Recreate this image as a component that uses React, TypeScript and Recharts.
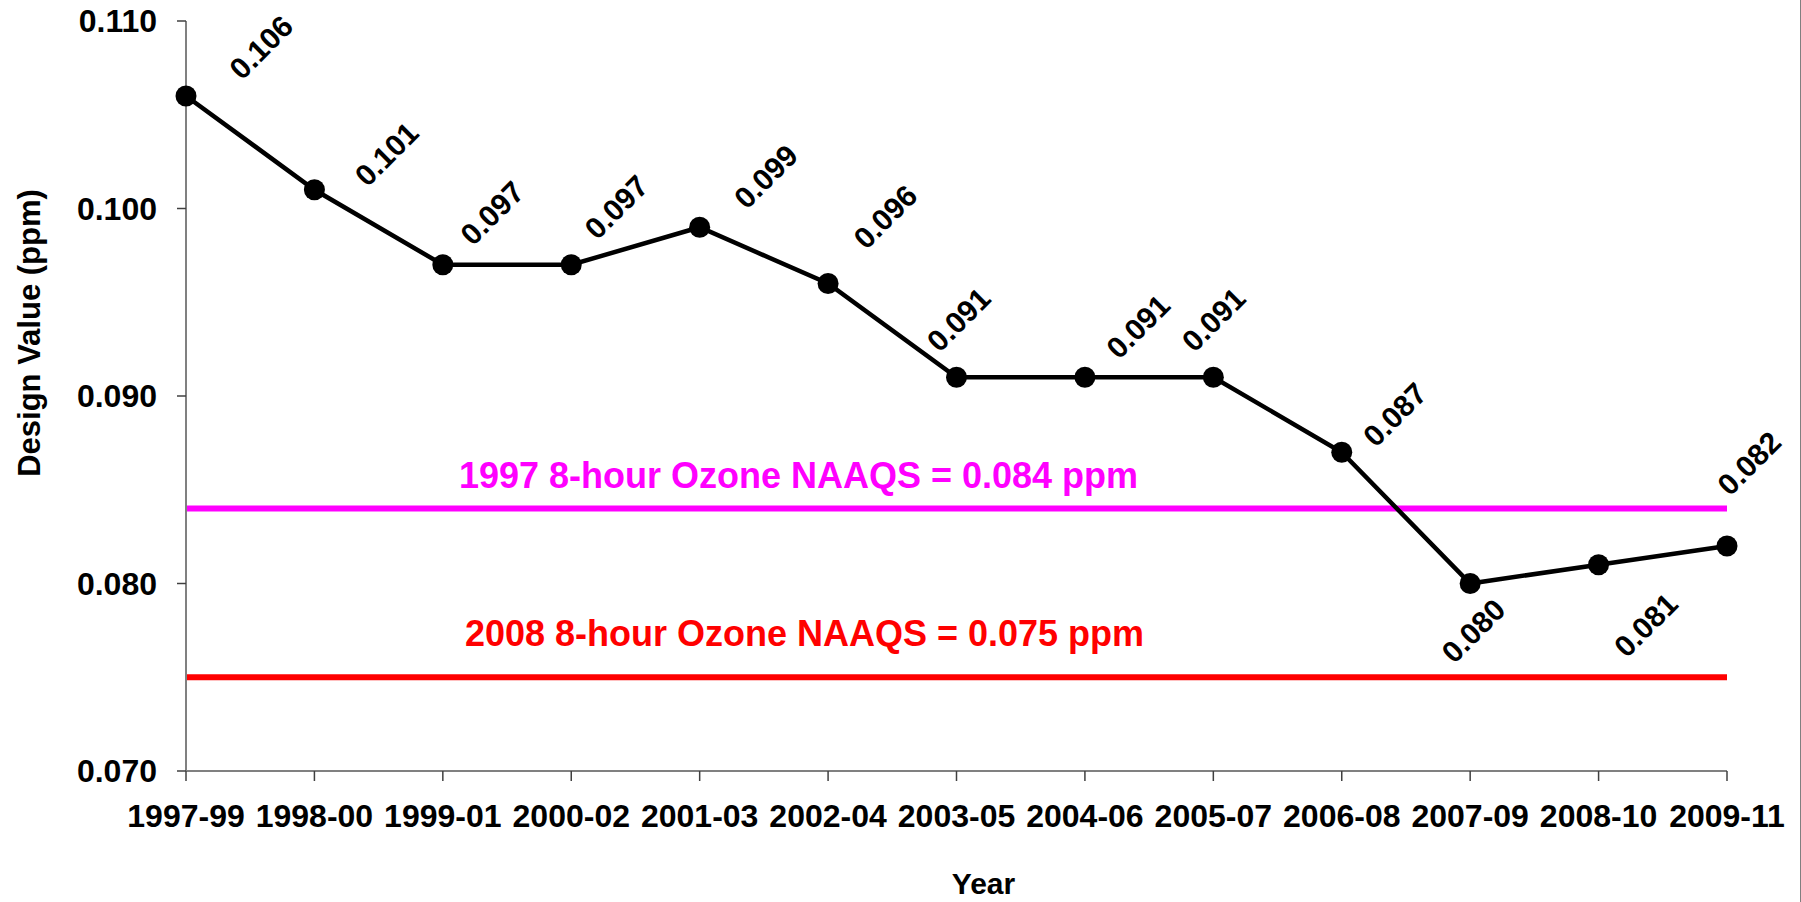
import { LineChart, Line, XAxis, YAxis, ReferenceLine, LabelList, Label } from "recharts";

/* 3-year periods on the x axis */
const periods = [
  "1997-99", "1998-00", "1999-01", "2000-02", "2001-03", "2002-04", "2003-05",
  "2004-06", "2005-07", "2006-08", "2007-09", "2008-10", "2009-11",
];

/* design values (ppm) */
const designValues = [
  0.106, 0.101, 0.097, 0.097, 0.099, 0.096, 0.091,
  0.091, 0.091, 0.087, 0.080, 0.081, 0.082,
];

/* y axis ticks */
const yTicks = [0.07, 0.08, 0.09, 0.1, 0.11];

/* standards */
const naaqs1997 = 0.084;
const naaqs2008 = 0.075;

/* hand placed label nudges, like in the original sheet */
const labelNudgeX = [75, 72, 49, 45, 66, 57, 2, 53, 0, 53, 3, 47, 22];
const labelNudgeY = [-49, -36, -52, -58, -51, -67, -58, -51, -58, -38, 47, 60, -83];

const font = "'Liberation Sans', Arial, sans-serif";

const data = periods.map((p, i) => ({ period: p, value: designValues[i] }));

const ValueLabel = (props: any) => {
  const { x, y, value, index } = props;
  const cx = x + labelNudgeX[index];
  const cy = y + labelNudgeY[index];
  return (
    <text
      x={cx}
      y={cy}
      dy="0.36em"
      textAnchor="middle"
      transform={`rotate(-45 ${cx} ${cy})`}
      fontFamily={font}
      fontWeight="bold"
      fontSize={30}
      fill="#000"
    >
      {Number(value).toFixed(3)}
    </text>
  );
};

const refLabel = (text: string, color: string, shiftX: number, lift: number) => (props: any) => {
  const vb = props.viewBox;
  return (
    <text
      x={vb.x + vb.width / 2 + shiftX}
      y={vb.y - lift}
      textAnchor="middle"
      fontFamily={font}
      fontWeight="bold"
      fontSize={36}
      fill={color}
    >
      {text}
    </text>
  );
};

const App = () => {
  return (
    <div
      style={{
        position: "absolute",
        left: 0,
        top: 0,
        width: 1800,
        height: 902,
        background: "#fff",
        borderRight: "1px solid #808080",
      }}
    >
      <LineChart
        width={1801}
        height={902}
        data={data}
        margin={{ top: 21, right: 74, left: 0, bottom: 0 }}
      >
        <XAxis
          dataKey="period"
          interval={0}
          height={131}
          tickSize={10}
          tickMargin={23}
          axisLine={{ stroke: "#808080", strokeWidth: 2 }}
          tickLine={{ stroke: "#404040", strokeWidth: 1.5 }}
          tick={{ fontFamily: font, fontWeight: "bold", fontSize: 32, fill: "#000" }}
        >
          <Label
            content={(props: any) => {
              const vb = props.viewBox;
              return (
                <text
                  x={vb.x + vb.width / 2 + 27}
                  y={894}
                  textAnchor="middle"
                  fontFamily={font}
                  fontWeight="bold"
                  fontSize={30}
                  fill="#000"
                >
                  Year
                </text>
              );
            }}
          />
        </XAxis>
        <YAxis
          domain={[0.07, 0.11]}
          ticks={yTicks}
          width={186}
          tickSize={9}
          tickMargin={20}
          tickFormatter={(v: number) => v.toFixed(3)}
          axisLine={{ stroke: "#808080", strokeWidth: 2 }}
          tickLine={{ stroke: "#404040", strokeWidth: 1.5 }}
          tick={{ fontFamily: font, fontWeight: "bold", fontSize: 32, fill: "#000" }}
        >
          <Label
            content={(props: any) => {
              const vb = props.viewBox;
              const cy = vb.y + vb.height / 2 - 63;
              return (
                <text
                  x={29}
                  y={cy}
                  dy="0.36em"
                  textAnchor="middle"
                  transform={`rotate(-90 29 ${cy})`}
                  fontFamily={font}
                  fontWeight="bold"
                  fontSize={31}
                  fill="#000"
                >
                  Design Value (ppm)
                </text>
              );
            }}
          />
        </YAxis>
        <ReferenceLine
          y={naaqs1997}
          stroke="#FF00FF"
          strokeWidth={6}
          label={refLabel("1997 8-hour Ozone NAAQS = 0.084 ppm", "#FF00FF", -158, 21)}
        />
        <ReferenceLine
          y={naaqs2008}
          stroke="#FF0000"
          strokeWidth={6}
          label={refLabel("2008 8-hour Ozone NAAQS = 0.075 ppm", "#FF0000", -152, 31)}
        />
        <Line
          type="linear"
          dataKey="value"
          stroke="#000"
          strokeWidth={4.5}
          dot={{ r: 10.5, fill: "#000", stroke: "none" }}
          activeDot={false}
          isAnimationActive={false}
        >
          <LabelList dataKey="value" content={ValueLabel} />
        </Line>
      </LineChart>
    </div>
  );
};

export default App;
